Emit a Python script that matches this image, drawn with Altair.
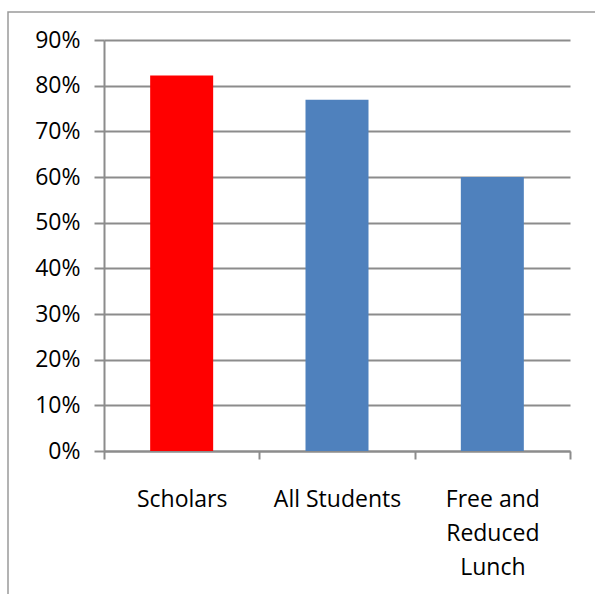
import altair as alt
import pandas as pd

categories = ["Scholars", "All Students", "Free and Reduced Lunch"]
values = [0.822, 0.769, 0.600]
bar_colors = ["#FF0000", "#4F81BD", "#4F81BD"]
y_ticks = [0.0, 0.1, 0.2, 0.3, 0.4, 0.5, 0.6, 0.7, 0.8, 0.9]

df = pd.DataFrame({"category": categories, "value": values})

FONT = "Open Sans"
GRID = "#8C8C8C"

frame = alt.Chart(alt.Data(values=[{}])).mark_rect(
    fill="white", fillOpacity=0, stroke="#9A9A9A", strokeWidth=1.5
).encode(
    x=alt.value(-96), x2=alt.value(600), y=alt.value(-28), y2=alt.value(600)
)

bars = alt.Chart(df).mark_bar(size=63).encode(
    x=alt.X(
        "category:N",
        sort=categories,
        scale=alt.Scale(paddingInner=0, paddingOuter=0),
        axis=alt.Axis(
            title=None,
            labelAngle=0,
            labelBaseline="top",
            labelFont=FONT,
            labelFontSize=23,
            labelColor="black",
            labelLineHeight=34,
            labelPadding=29,
            labelExpr="datum.label == 'Free and Reduced Lunch' ? ['Free and', 'Reduced', 'Lunch'] : datum.label",
            tickBand="extent",
            tickSize=8,
            tickColor=GRID,
            tickWidth=2,
            domainColor=GRID,
            domainWidth=2,
            grid=False,
        ),
    ),
    y=alt.Y(
        "value:Q",
        scale=alt.Scale(domain=[0, 0.9], nice=False),
        axis=alt.Axis(
            title=None,
            values=y_ticks,
            format=".0%",
            labelFont=FONT,
            labelFontSize=23,
            labelColor="black",
            labelPadding=14,
            tickSize=10,
            tickColor=GRID,
            tickWidth=2,
            domainColor=GRID,
            domainWidth=2,
            grid=True,
            gridColor=GRID,
            gridWidth=2,
        ),
    ),
    color=alt.Color(
        "category:N",
        scale=alt.Scale(domain=categories, range=bar_colors),
        legend=None,
    ),
)

chart = alt.layer(frame, bars).properties(
    width=466,
    height=411,
    autosize=alt.AutoSizeParams(type="none"),
    padding={"left": 104, "top": 40, "right": 25, "bottom": 143},
    background="white",
).configure_view(strokeWidth=0)

chart.save("out.html", embed_options={"renderer": "svg", "actions": False})
